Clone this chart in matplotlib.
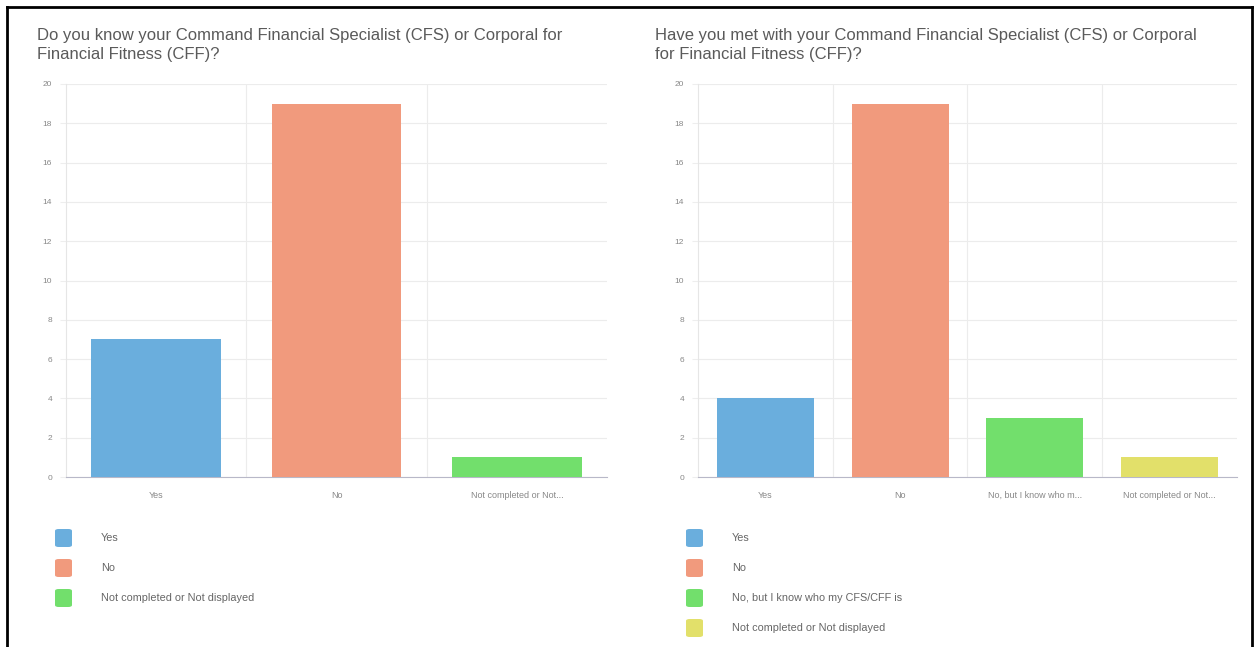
import matplotlib
matplotlib.use("Agg")
import matplotlib.pyplot as plt
from matplotlib.patches import FancyBboxPatch
from matplotlib.lines import Line2D

plt.rcParams["font.family"] = ["Liberation Sans", "DejaVu Sans"]

W, H = 1258, 647

left_title = "Do you know your Command Financial Specialist (CFS) or Corporal for\nFinancial Fitness (CFF)?"
left_ticks = ["Yes", "No", "Not completed or Not..."]
left_legend = ["Yes", "No", "Not completed or Not displayed"]
left_values = [7, 19, 1]

right_title = "Have you met with your Command Financial Specialist (CFS) or Corporal\nfor Financial Fitness (CFF)?"
right_ticks = ["Yes", "No", "No, but I know who m...", "Not completed or Not..."]
right_legend = ["Yes", "No", "No, but I know who my CFS/CFF is", "Not completed or Not displayed"]
right_values = [4, 19, 3, 1]

colors = ["#6aaedd", "#f19a7d", "#72df6c", "#e2e06a"]
y_ticks = list(range(0, 21, 2))

fig = plt.figure(figsize=(W / 100, H / 100), dpi=100)
fig.patch.set_facecolor("white")


def px(x, y):
    # pixel coords from top-left -> figure fraction
    return x / W, 1 - y / H


def panel(x0, x1, tx0, title, ticks, legend, values, lx0):
    ax = fig.add_axes([x0 / W, (H - 477) / H, (x1 - x0) / W, (477 - 84) / H])
    n = len(values)
    ax.bar(range(n), values, width=0.72, color=colors[:n], zorder=3)
    ax.set_xlim(-0.5, n - 0.5)
    ax.set_ylim(0, 20)
    ax.set_yticks(y_ticks)
    ax.set_xticks(range(n))
    ax.set_xticklabels(ticks, fontsize=6.5, color="#888888")
    ax.set_xticks([i - 0.5 for i in range(1, n)], minor=True)
    ax.tick_params(axis="y", labelsize=6, colors="#888888", length=4, color="#eeeeee", pad=6)
    ax.tick_params(axis="x", which="major", length=0, pad=10)
    ax.tick_params(axis="x", which="minor", length=0)
    ax.grid(axis="y", color="#ececec", linewidth=0.8, zorder=0)
    ax.grid(axis="x", which="minor", color="#ececec", linewidth=0.8, zorder=0)
    for s in ["top", "right"]:
        ax.spines[s].set_visible(False)
    ax.spines["left"].set_color("#e6e6e6")
    ax.spines["bottom"].set_color("#b8b8c8")

    tx, ty = px(tx0, 28)
    fig.text(tx, ty, title, fontsize=12, color="#5a5a5a", va="top", ha="left",
             linespacing=1.3)

    for i, label in enumerate(legend):
        cy = 538 + 30 * i
        lx, ly = px(lx0, cy + 9)
        fig.patches.append(FancyBboxPatch(
            (lx, ly), 17 / W, 18 / H,
            boxstyle="round,pad=0,rounding_size=0.003",
            transform=fig.transFigure, facecolor=colors[i], edgecolor="none"))
        tx, ty = px(lx0 + 46, cy)
        fig.text(tx, ty, label, fontsize=7.8, color="#666666", va="center", ha="left")


panel(66, 607, 37, left_title, left_ticks, left_legend, left_values, 55)
panel(698, 1237, 655, right_title, right_ticks, right_legend, right_values, 686)

# frame lines
for xs, ys in [([7, 7], [7, 647]), ([7, 1252], [7, 7]), ([1252, 1252], [7, 647])]:
    fig.lines.append(Line2D([x / W for x in xs], [1 - y / H for y in ys],
                            transform=fig.transFigure, color="black", linewidth=2))

fig.savefig("out.png", dpi=100)
